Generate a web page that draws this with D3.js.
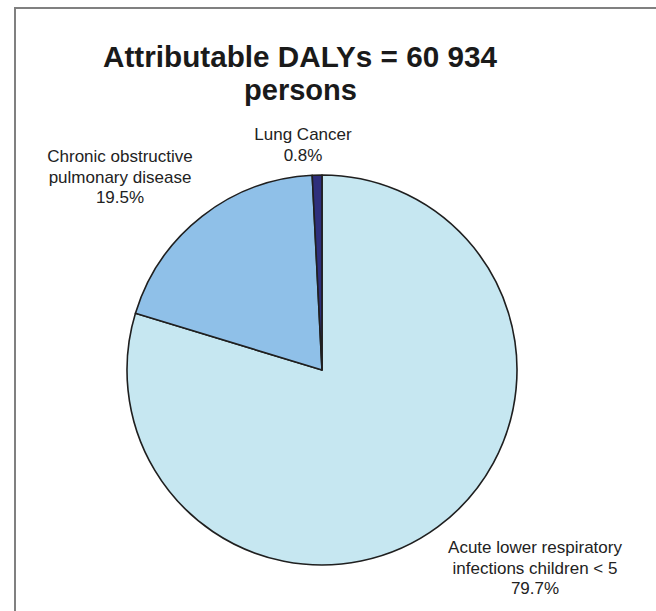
<!doctype html>
<html>
<head>
<script src="https://d3js.org/d3.v7.min.js"></script>
<style>
body { margin: 0; background: #fff; }
.lbl { font: 17px "Liberation Sans", Arial, sans-serif; fill: #222; }
.title { font: bold 29px "Liberation Sans", Arial, sans-serif; fill: #1a1a1a; }
</style>
</head>
<body>
<svg width="656" height="611"></svg>
<script>
// chart data
var categories = ["Acute lower respiratory infections children < 5", "Chronic obstructive pulmonary disease", "Lung Cancer"];
var values = [79.7, 19.5, 0.8];
var colours = ["#c6e7f1", "#8fc0e8", "#2e2f7c"];
var labelLines = [
  ["Acute lower respiratory", "infections children < 5", "79.7%"],
  ["Chronic obstructive", "pulmonary disease", "19.5%"],
  ["Lung Cancer", "0.8%"]
];
var titleLines = ["Attributable DALYs = 60 934", "persons"];

var svg = d3.select("svg");

// frame (top + left edges only visible)
svg.append("path")
    .attr("d", "M15,611V8H656")
    .attr("fill", "none")
    .attr("stroke", "#808080")
    .attr("stroke-width", 2);

var cx = 322, cy = 370, r = 195;

var pie = d3.pie().sort(null).value(function(d) { return d; });
var arc = d3.arc().innerRadius(0).outerRadius(r);

var g = svg.append("g").attr("transform", "translate(" + cx + "," + cy + ")");

g.selectAll("path")
    .data(pie(values))
  .enter().append("path")
    .attr("d", arc)
    .attr("fill", function(d, i) { return colours[i]; })
    .attr("stroke", "#1f1f1f")
    .attr("stroke-width", 1.6)
    .attr("stroke-linejoin", "round");

// title
var title = svg.append("text").attr("class", "title").attr("text-anchor", "middle");
title.append("tspan").attr("x", 300).attr("y", 67)
    .attr("textLength", 394).attr("lengthAdjust", "spacingAndGlyphs")
    .text(titleLines[0]);
title.append("tspan").attr("x", 300.5).attr("y", 100)
    .attr("textLength", 113).attr("lengthAdjust", "spacingAndGlyphs")
    .text(titleLines[1]);

// labels
var labelPos = [[535, 553], [120, 162], [303, 140]];
labelLines.forEach(function(lines, i) {
  var t = svg.append("text").attr("class", "lbl").attr("text-anchor", "middle");
  lines.forEach(function(s, j) {
    t.append("tspan")
      .attr("x", labelPos[i][0])
      .attr("y", labelPos[i][1] + j * 20.5)
      .text(s);
  });
});
</script>
</body>
</html>
